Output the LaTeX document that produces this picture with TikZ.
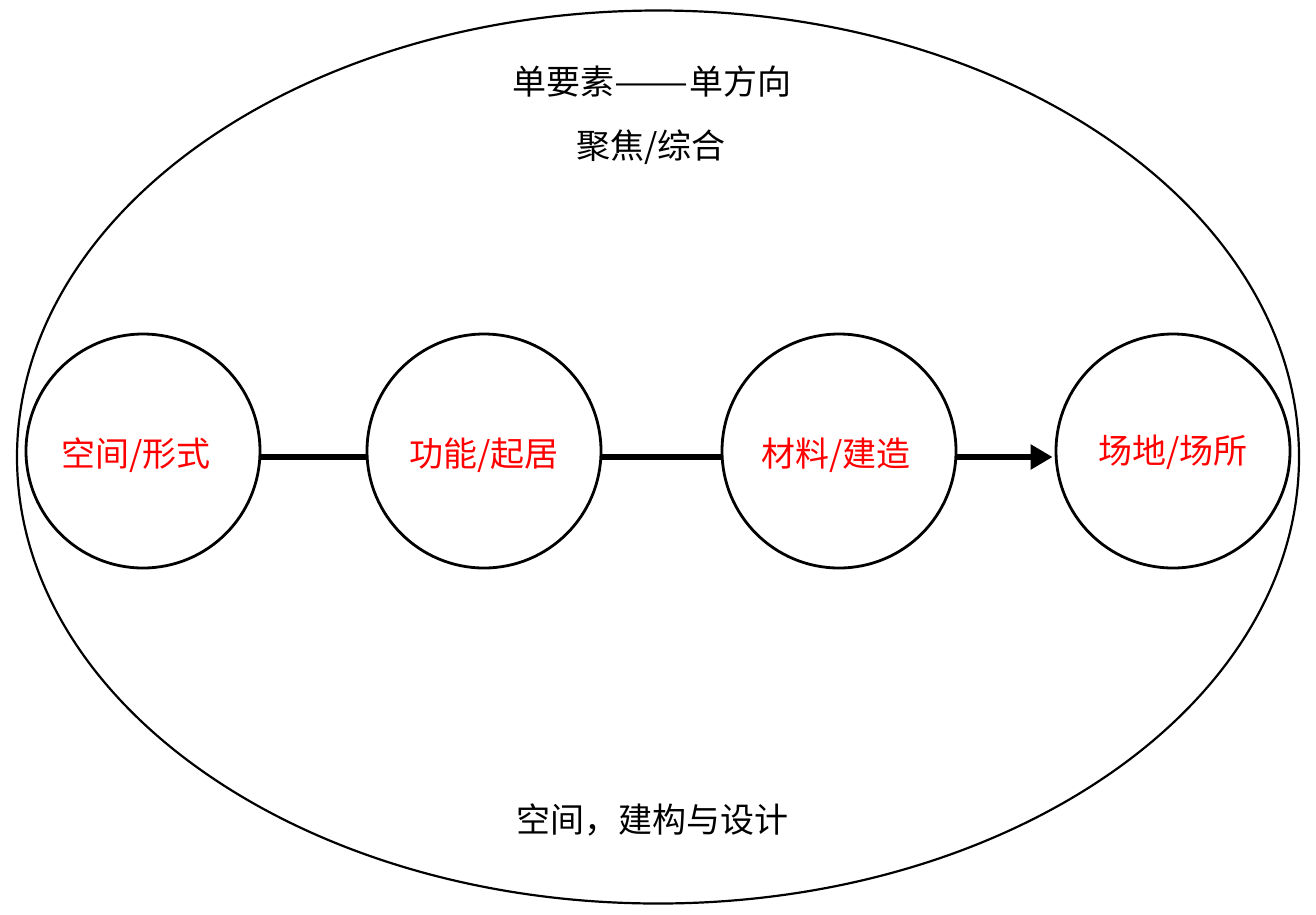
\documentclass[tikz,border=0pt]{standalone}
\usepackage{fontspec}
\usepackage{graphicx}
\newfontfamily\cjk{Noto Sans CJK SC}
\usetikzlibrary{arrows.meta,shapes.geometric}
\begin{document}
\begin{tikzpicture}[x=1pt,y=-1pt,
  stage/.style={circle,draw,line width=2.8pt,minimum size=234pt,inner sep=0pt},
  redlbl/.style={text=red,font=\cjk\fontsize{34}{40}\selectfont},
  blklbl/.style={text=black,font=\cjk\fontsize{34}{40}\selectfont},
  link/.style={line width=5.5pt}]
\useasboundingbox (0,0) rectangle (1316,914);
\node[draw,ellipse,line width=2.2pt,minimum width=1282pt,minimum height=893pt,inner sep=0pt] (outer) at (658,457) {};
\node[stage] (c1) at (143,451) {};
\node[stage] (c2) at (484,451) {};
\node[stage] (c3) at (839,451) {};
\node[stage] (c4) at (1173,451) {};
\node[redlbl] (t1) at (136,455) {空间/形式};
\node[redlbl] (t2) at (484,455) {功能/起居};
\node[redlbl] (t3) at (836,455) {材料/建造};
\node[redlbl] (t4) at (1173,452) {场地/场所};
\node[blklbl] (h1) at (652,82) {单要素\scalebox{1.3}[1]{——}单方向};
\node[blklbl] (h2) at (651,147) {聚焦/综合};
\node[blklbl] (h3) at (652,820) {空间，建构与设计};
\draw[link] (c1.east |- 0,457) -- (c2.west |- 0,457);
\draw[link] (c2.east |- 0,457) -- (c3.west |- 0,457);
\draw[link,-{Triangle[length=22pt,width=24pt]}] (c3.east |- 0,457) -- ([xshift=-2pt]c4.west |- 0,457);
\end{tikzpicture}
\end{document}
